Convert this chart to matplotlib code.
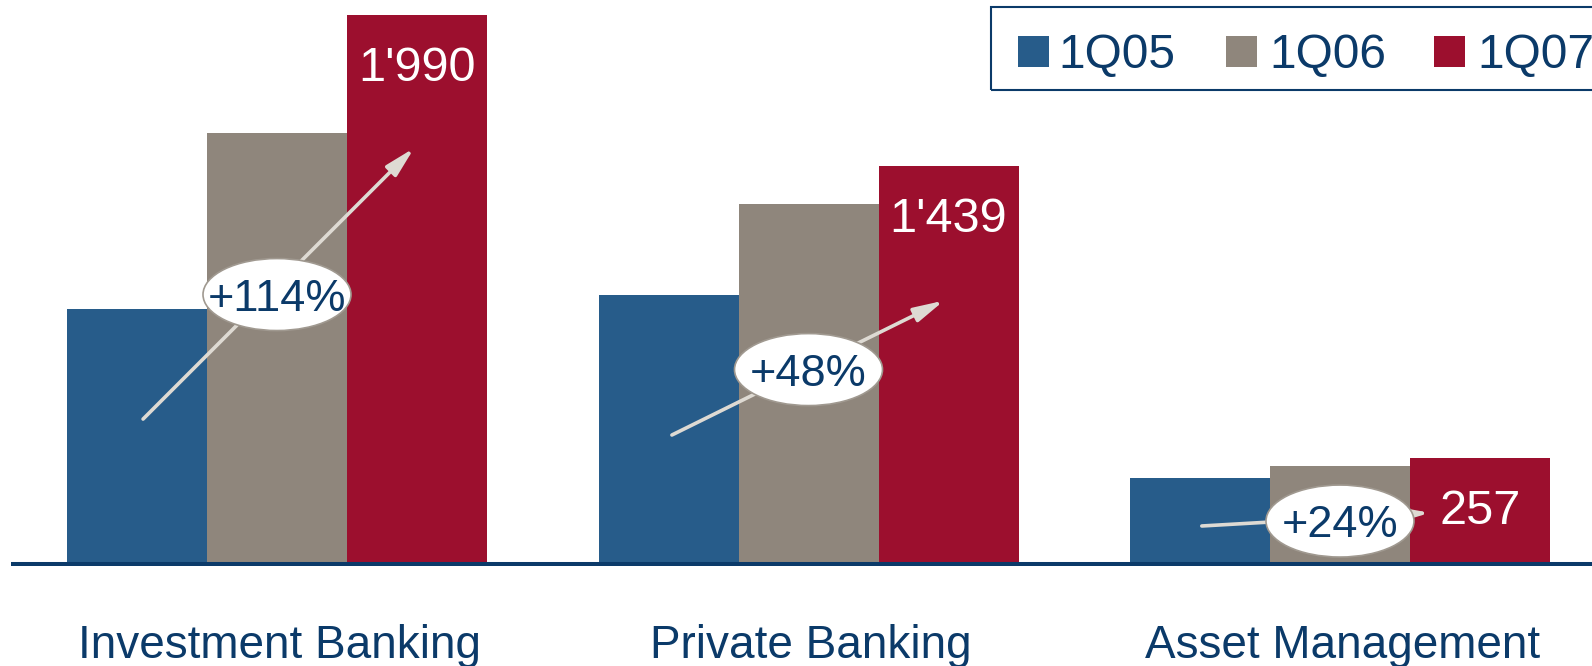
import matplotlib
matplotlib.use('Agg')
import matplotlib.pyplot as plt
import numpy as np
from matplotlib.patches import Ellipse, Rectangle
from matplotlib.transforms import blended_transform_factory

plt.rcParams['font.family'] = ['Liberation Sans', 'DejaVu Sans']

# data
categories = ['Investment Banking', 'Private Banking', 'Asset Management']
periods = ['1Q05', '1Q06', '1Q07']
q05 = [922, 970, 305]
q06 = [1561, 1302, 349]
q07 = [1990, 1439, 379]
value_labels = ["1'990", "1'439", "257"]
growth_labels = ['+114%', '+48%', '+24%']

navy = '#0b3a69'
colors = ['#275c8a', '#8f867c', '#9c0f2e']
arrow_c = '#dedad3'

W, H = 1592, 666
fig = plt.figure(figsize=(W / 100, H / 100), dpi=100)
ax = fig.add_axes([11 / W, 100 / H, 1 - 11 / W, 566 / H])

ypp = 1990 / 547      # data units per pixel (vertical)
xpp = 1 / 531.5       # data units per pixel (horizontal)
bw = 140 * xpp

x = np.arange(len(categories))
for off, vals, c in zip([-bw, 0, bw], [q05, q06, q07], colors):
    ax.bar(x + off, vals, bw, color=c, zorder=2)

ax.axhline(-2 * ypp, color=navy, lw=2.9, zorder=4)

ax.set_xlim(-(277 - 11) * xpp, (W - 277) * xpp)
ax.set_ylim(-4 * ypp, 562 * ypp)
ax.set_axis_off()

# growth arrows
arrows = [(-0.252, 520, 0.258, 1506),
          (0.743, 462, 1.255, 951),
          (1.740, 131, 2.169, 179)]
for x0, y0, x1, y1 in arrows:
    ax.annotate('', xy=(x1, y1), xytext=(x0, y0),
                arrowprops=dict(arrowstyle='-|>,head_length=0.9,head_width=0.22',
                                color=arrow_c, lw=2.6, mutation_scale=20,
                                shrinkA=0, shrinkB=0),
                zorder=3)

# ellipses with growth text
ell_y = [973, 700, 149]
for i, (yc, g) in enumerate(zip(ell_y, growth_labels)):
    ax.add_patch(Ellipse((x[i], yc), 148 * xpp, 72 * ypp, facecolor='white',
                         edgecolor='#a09990', lw=1.2, zorder=5))
    ax.annotate(g, xy=(x[i], yc), xytext=(0, -16 * 0.72), textcoords='offset points',
                ha='center', va='baseline', fontsize=32.5, color=navy, zorder=6)

# value labels on 1Q07 bars
for i, lbl in enumerate(value_labels):
    ax.annotate(lbl, xy=(x[i] + bw, q07[i]), xytext=(0, -66 * 0.72),
                textcoords='offset points', ha='center', va='baseline',
                fontsize=35, color='white', zorder=6)

# category labels
trans = blended_transform_factory(ax.transData, fig.transFigure)
for i, cat in enumerate(categories):
    ax.text(x[i] + 0.005, (H - 658) / H, cat, ha='center', va='baseline',
            fontsize=33, color=navy, transform=trans)

# legend box (runs off the right edge)
fig.add_artist(Rectangle((991 / W, 1 - 90 / H), (W + 20 - 991) / W, 83 / H,
                         transform=fig.transFigure, fill=False,
                         edgecolor=navy, lw=1.5))
sq_x = [1018, 1226, 1434]
txt_x = [1058, 1269, 1477]
for sx, tx, c, p in zip(sq_x, txt_x, colors, periods):
    fig.add_artist(Rectangle((sx / W, 1 - 67 / H), 31 / W, 31.5 / H,
                             transform=fig.transFigure, facecolor=c, edgecolor='none'))
    fig.text(tx / W, 1 - 68 / H, p, ha='left', va='baseline',
             fontsize=34.5, color=navy)

fig.savefig('out.png', dpi=100)
